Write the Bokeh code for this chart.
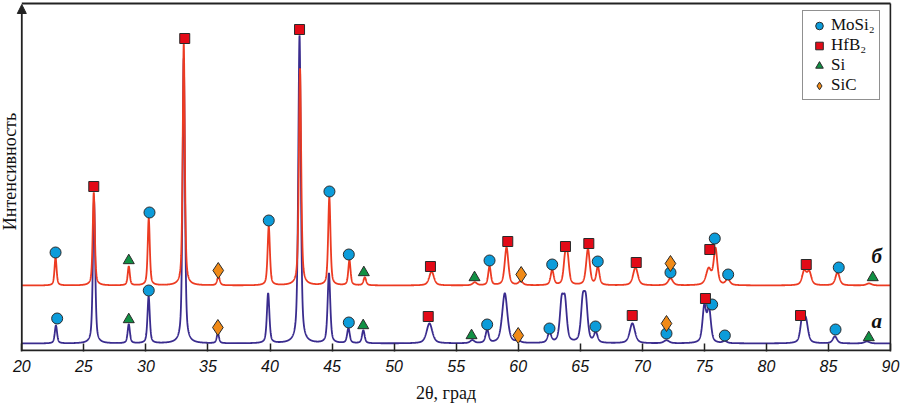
import numpy as np
from bokeh.plotting import figure
from bokeh.models import (Range1d, Legend, LegendItem, Label, Arrow, NormalHead,
                          FixedTicker, Title)
from bokeh.embed import file_html
from bokeh.resources import INLINE

# ---------------- data ----------------
# angles in degrees 2θ, intensities in arbitrary units
ticks = [20, 25, 30, 35, 40, 45, 50, 55, 60, 65, 70, 75, 80, 85, 90]

# pattern "а" (lower, blue)
a_base = 7
a_pos = [22.75, 25.82, 28.62, 30.22, 33.05, 35.80, 39.85, 42.38, 44.75, 46.32, 47.52,
         52.85, 56.30, 57.50, 58.92, 60.00, 62.52, 63.50, 63.77, 65.20, 65.45, 66.25,
         69.20, 71.95, 75.00, 75.38, 76.65, 82.88, 83.18, 85.52, 88.10]
a_h = [18, 143, 19, 47, 285, 10, 50, 308, 70, 15, 13,
       20, 3, 13, 50, 2, 10, 38, 38, 38, 38, 10,
       20, 3, 36, 33, 2, 22, 22, 7, 2]
a_w = [0.22, 0.22, 0.22, 0.22, 0.22, 0.22, 0.24, 0.24, 0.25, 0.25, 0.25,
       0.55, 0.40, 0.30, 0.50, 0.40, 0.35, 0.35, 0.35, 0.35, 0.35, 0.35,
       0.50, 0.50, 0.35, 0.35, 0.40, 0.35, 0.40, 0.40, 0.50]

# pattern "б" (upper, red)
b_base = 65
b_pos = [22.72, 25.80, 28.62, 30.23, 33.05, 35.85, 39.90, 42.42, 44.78, 46.40, 47.64,
         53.02, 56.50, 57.69, 59.06, 60.20, 62.74, 63.78, 63.98, 65.62, 66.42,
         69.45, 72.27, 75.35, 75.90, 76.89, 83.05, 83.45, 85.73, 88.27]
b_h = [28, 93, 19, 67, 242, 9, 59, 217, 88, 25, 8,
       14, 3, 19, 38, 4, 15, 25, 25, 36, 18,
       18, 7, 16, 36, 6, 14, 13, 13, 2]
b_w = [0.20, 0.20, 0.20, 0.20, 0.20, 0.25, 0.22, 0.22, 0.22, 0.22, 0.25,
       0.45, 0.40, 0.25, 0.35, 0.40, 0.30, 0.30, 0.30, 0.35, 0.30,
       0.45, 0.45, 0.50, 0.35, 0.40, 0.40, 0.40, 0.40, 0.50]

# phase markers (angle, intensity level)
mosi2_x = [22.72, 30.29, 39.90, 44.79, 46.35, 57.69, 62.74, 66.41, 72.27, 75.84, 76.92, 85.83,
           22.85, 30.23, 46.35, 57.50, 62.52, 66.23, 71.95, 75.63, 76.65, 85.57]
mosi2_y = [98, 138, 130, 159, 96, 90, 86, 89, 78, 112, 76, 83,
           32, 60, 28, 26, 22, 24, 17, 46, 15, 21]
hfb2_x = [25.80, 33.13, 42.38, 52.93, 59.16, 63.81, 65.69, 69.51, 75.44, 83.21,
          52.75, 69.19, 75.09, 82.75]
hfb2_y = [164, 312, 321, 84, 109, 104, 107, 88, 101, 86,
          34, 35, 52, 35]
si_x = [28.62, 47.56, 56.48, 88.57,
        28.62, 47.51, 56.24, 88.25]
si_y = [90, 78, 73, 73,
        31, 25, 15, 13]
sic_x = [35.83, 60.24, 72.27,
         35.80, 60.00, 71.95]
sic_y = [80, 76, 87,
         23, 15, 27]

# axis extents of the drawn box
x_lo, x_hi = 20, 90
y_lo, y_hi = 0, 347

# ---------------- drawing ----------------
def pattern(x, base, pos, h, w, eta=0.55):
    y = np.full_like(x, float(base))
    for p0, h0, w0 in zip(pos, h, w):
        d = (x - p0) / w0
        lor = 1.0 / (1.0 + 4.0 * d * d)
        gau = np.exp(-4.0 * np.log(2.0) * d * d)
        y += h0 * (eta * lor + (1 - eta) * gau)
    return y

xg = np.linspace(x_lo, x_hi, 7001)
ya = pattern(xg, a_base, a_pos, a_h, a_w)
yb = pattern(xg, b_base, b_pos, b_h, b_w)

PXU = 12.41                      # pixels per degree
FRAME_W = 891
x_start = x_lo - 21.3 / PXU
p = figure(width=900, height=411, output_backend="svg", toolbar_location=None,
           x_range=Range1d(x_start, x_start + FRAME_W / PXU), y_range=Range1d(-1, 350),
           y_axis_location=None, min_border_left=0, min_border_right=900 - FRAME_W,
           min_border_top=0, min_border_bottom=60)
p.grid.visible = False
p.outline_line_color = None

RED = "#EC3B22"
BLUE = "#3A2C8E"
DARK = "#222222"
p.line(xg, ya, line_color=BLUE, line_width=1.8)
p.line(xg, yb, line_color=RED, line_width=1.8)

# plot box: bottom, top and right edges
p.line([x_lo, x_hi], [y_lo, y_lo], line_color=DARK, line_width=1.8)
p.line([x_lo, x_hi], [y_hi, y_hi], line_color=DARK, line_width=1.8)
p.line([x_hi, x_hi], [y_lo, y_hi], line_color=DARK, line_width=1.8)
# y axis with arrow
p.add_layout(Arrow(end=NormalHead(size=9, fill_color=DARK, line_color=DARK),
                   x_start=x_lo, y_start=y_lo, x_end=x_lo, y_end=y_hi - 1,
                   line_color=DARK, line_width=1.8))

OUT = "#2a2a2a"
r_mo = p.scatter(mosi2_x, mosi2_y, marker="circle", size=11, fill_color="#0C9CDA",
                 line_color=OUT, line_width=1)
r_hf = p.scatter(hfb2_x, hfb2_y, marker="square", size=10, fill_color="#E30A17",
                 line_color=OUT, line_width=1)
r_si = p.scatter(si_x, si_y, marker="triangle", size=11, fill_color="#119144",
                 line_color=OUT, line_width=1)
r_sc = p.scatter(sic_x, sic_y, marker="diamond", size=16, fill_color="#F08A17",
                 line_color=OUT, line_width=1)

legend = Legend(items=[LegendItem(label="MoSi₂", renderers=[r_mo]),
                       LegendItem(label="HfB₂", renderers=[r_hf]),
                       LegendItem(label="Si", renderers=[r_si]),
                       LegendItem(label="SiC", renderers=[r_sc])],
                location=(802, 251), orientation="vertical",
                border_line_color=DARK, border_line_width=1.5,
                background_fill_color="white", background_fill_alpha=1,
                label_text_font="Liberation Serif", label_text_font_size="17px",
                label_text_color="#111111",
                glyph_width=24, glyph_height=19, label_height=18, label_standoff=0,
                spacing=0, padding=4, margin=0)
p.add_layout(legend)

# x axis
ax = p.xaxis[0]
ax.ticker = FixedTicker(ticks=ticks)
ax.major_tick_in = 8
ax.major_tick_out = 0
ax.minor_tick_line_color = None
ax.axis_line_color = None
ax.major_tick_line_color = DARK
ax.major_tick_line_width = 1.5
ax.major_label_text_font = "Liberation Sans"
ax.major_label_text_font_style = "italic"
ax.major_label_text_font_size = "16px"
ax.major_label_text_color = "#111111"
ax.major_label_standoff = 8
p.add_layout(Title(text="2θ, град", align="center", text_font="Liberation Serif",
                   text_font_size="18px", text_font_style="normal", text_color="#111111",
                   standoff=12, offset=10), "below")

# y title
p.add_layout(Label(x=x_start + 9 / PXU, y=179, text="Интенсивность", angle=np.pi / 2,
                   text_font="Liberation Serif", text_font_size="18px",
                   text_align="center", text_baseline="middle", text_color="#111111"))

# pattern labels
for lab, yy in (("б", 95), ("а", 30)):
    p.add_layout(Label(x=88.9, y=yy, text=lab, text_font="Liberation Serif",
                       text_font_style="bold italic", text_font_size="21px",
                       text_align="center", text_baseline="middle",
                       text_color="#111111"))

open("out.html", "w").write(file_html(p, INLINE))
